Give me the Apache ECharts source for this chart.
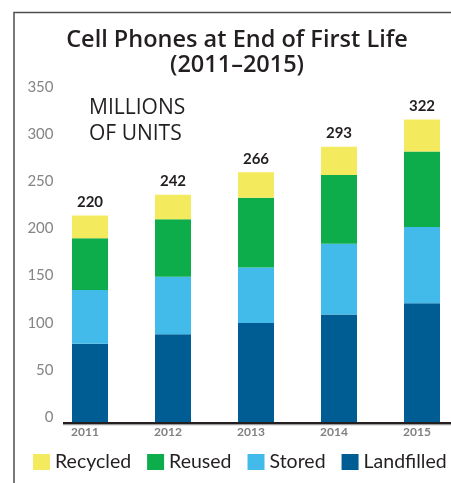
<!DOCTYPE html>
<html>
<head>
<meta charset="utf-8">
<script src="https://cdn.jsdelivr.net/npm/echarts@6/dist/echarts.min.js"></script>
<style>
html,body{margin:0;padding:0;background:#fff;}
#chart{width:451px;height:483px;}
</style>
</head>
<body>
<div id="chart"></div>
<script>
var years = ['2011', '2012', '2013', '2014', '2015'];
var landfilled = [84, 94, 106, 115, 127];
var stored = [57, 61, 59, 75, 81];
var reused = [55, 61, 74, 73, 80];
var recycled = [24, 26, 27, 30, 34];
var totals = [220, 242, 266, 293, 322];
var yTicks = { min: 0, max: 350, interval: 50 };

var FONT = 'Lato';
var TITLE_FONT = 'Open Sans';
var DARK = '#231f20';
var colors = {
  Recycled: '#f4ea5e',
  Reused: '#0cad4a',
  Stored: '#42bbea',
  Landfilled: '#005d94'
};

var chart = echarts.init(document.getElementById('chart'), null, { renderer: 'canvas' });

function barSeries(name, data, extra) {
  var s = {
    name: name,
    type: 'bar',
    stack: 'total',
    data: data,
    barWidth: 36,
    itemStyle: { color: colors[name] },
    emphasis: { disabled: true }
  };
  if (extra) { for (var k in extra) s[k] = extra[k]; }
  return s;
}

var option = {
  backgroundColor: '#fff',
  animation: false,
  textStyle: { fontFamily: FONT },
  title: [
    {
      text: 'Cell Phones at End of First Life\n(2011\u20132015)',
      left: 237,
      top: 28,
      textAlign: 'center',
      padding: 0,
      textStyle: {
        fontFamily: TITLE_FONT,
        fontSize: 23.5,
        fontWeight: 600,
        color: DARK,
        lineHeight: 25
      }
    },
    {
      text: 'MILLIONS\nOF UNITS',
      left: 89,
      top: 95,
      textAlign: 'left',
      padding: 0,
      textStyle: {
        fontFamily: TITLE_FONT,
        fontSize: 21,
        fontWeight: 'normal',
        color: DARK,
        lineHeight: 26
      }
    }
  ],
  legend: {
    data: ['Recycled', 'Reused', 'Stored', 'Landfilled'],
    left: 33,
    top: 452,
    padding: 0,
    icon: 'rect',
    itemWidth: 17,
    itemHeight: 16,
    itemGap: 16,
    selectedMode: false,
    textStyle: { fontFamily: FONT, fontSize: 19.5, color: DARK }
  },
  grid: {
    left: 48.5,
    width: 415,
    top: 93,
    bottom: 60,
    containLabel: false,
    outerBoundsMode: 'none'
  },
  xAxis: {
    type: 'category',
    data: years,
    axisLine: { show: false },
    axisTick: { show: false },
    axisLabel: {
      color: '#808080',
      fontFamily: FONT,
      fontSize: 12,
      fontWeight: 'bold',
      margin: 3,
      padding: [0, 10, 0, 0]
    }
  },
  yAxis: {
    type: 'value',
    min: yTicks.min,
    max: yTicks.max,
    interval: yTicks.interval,
    axisLine: { show: false },
    axisTick: { show: false },
    splitLine: { show: false },
    axisLabel: {
      color: '#858585',
      fontFamily: FONT,
      fontSize: 15,
      margin: -5,
      verticalAlign: 'bottom',
      lineHeight: 12
    }
  },
  graphic: [
    {
      type: 'polyline',
      shape: { points: [[14, 483], [14, 12.5], [451, 12.5]] },
      style: { stroke: '#4d4d4d', lineWidth: 1.5, fill: null },
      silent: true
    },
    {
      type: 'rect',
      shape: { x: 63, y: 424, width: 388, height: 1.2 },
      style: { fill: '#9a9a9a' },
      silent: true,
      z: 10
    },
    {
      type: 'rect',
      shape: { x: 63, y: 422, width: 388, height: 2 },
      style: { fill: DARK },
      silent: true,
      z: 11
    }
  ],
  series: [
    barSeries('Landfilled', landfilled),
    barSeries('Stored', stored),
    barSeries('Reused', reused),
    barSeries('Recycled', recycled, {
      label: {
        show: true,
        position: 'top',
        distance: 6,
        fontFamily: FONT,
        fontSize: 15,
        fontWeight: 'bold',
        color: DARK,
        formatter: function (p) { return String(totals[p.dataIndex]); }
      }
    })
  ]
};

chart.setOption(option);
</script>
</body>
</html>
